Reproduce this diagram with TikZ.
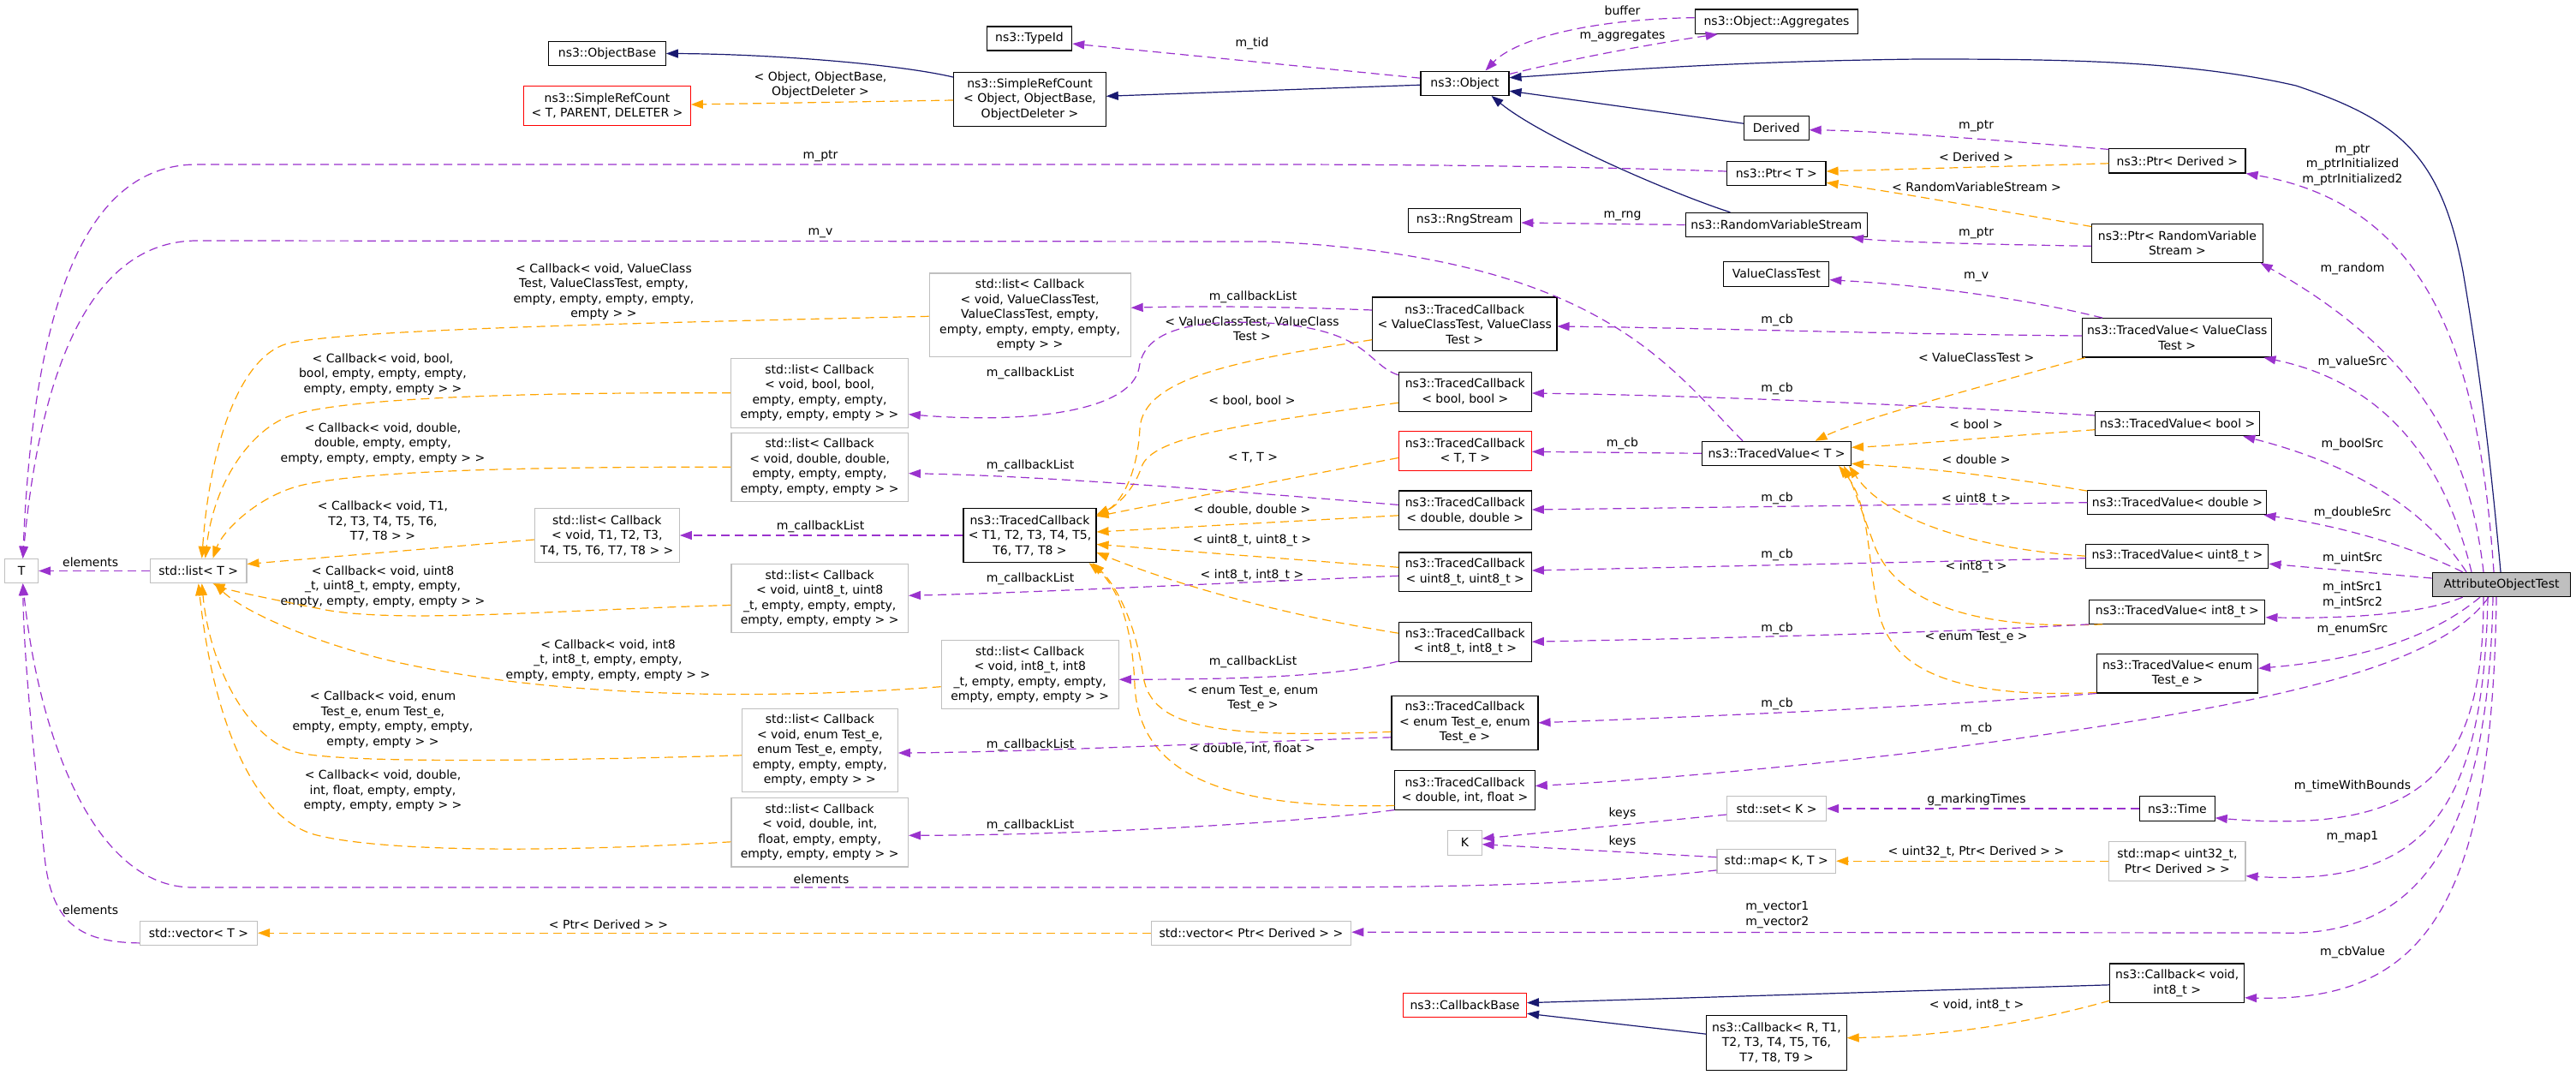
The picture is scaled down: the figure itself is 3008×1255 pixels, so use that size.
\documentclass[tikz,border=0pt]{standalone}
\usepackage{fontspec}
\setmainfont{DejaVu Sans}
\usetikzlibrary{arrows.meta,calc}
\definecolor{purp}{HTML}{9A32CD}
\definecolor{orng}{HTML}{FFA500}
\definecolor{navyb}{HTML}{191970}
\definecolor{boxgray}{HTML}{BFBFBF}
\newcommand{\dfont}{\fontsize{14}{17.5}\selectfont}
\begin{document}
\begin{tikzpicture}[x=1pt,y=-1pt,
  box/.style={draw=black, line width=1.1pt, fill=white, inner sep=0pt, align=center, font=\dfont},
  gbox/.style={box, draw=boxgray},
  rbox/.style={box, draw=red},
  lbl/.style={inner sep=0pt, align=center, font=\dfont},
  uedge/.style={draw=purp, line width=1.2pt, dash pattern=on 10pt off 6pt, -{Triangle[length=14pt,width=10pt]}},
  tedge/.style={draw=orng, line width=1.2pt, dash pattern=on 10pt off 6pt, -{Triangle[length=14pt,width=10pt]}},
  iedge/.style={draw=navyb, line width=1.2pt, -{Triangle[length=14pt,width=10pt]}}]
\useasboundingbox (0,0) rectangle (3008,1255);
\fill[white] (0,0) rectangle (3008,1255);

% ---------- nodes ----------
\node[box, minimum width=136.5pt, minimum height=28.4pt] (objbase) at (709,62.5) {ns3::ObjectBase};
\node[rbox, minimum width=194.7pt, minimum height=46pt] (srcT) at (709,123.7) {ns3::SimpleRefCount\\< T, PARENT, DELETER >};
\node[box, minimum width=177.5pt, minimum height=62.7pt] (srcObj) at (1202.5,115.7) {ns3::SimpleRefCount\\< Object, ObjectBase,\\ObjectDeleter >};
\node[box, minimum width=99.4pt, minimum height=28pt] (typeid) at (1202,45) {ns3::TypeId};
\node[box, minimum width=103pt, minimum height=28.3pt] (object) at (1710.5,97.2) {ns3::Object};
\node[box, minimum width=190.5pt, minimum height=28.3pt] (aggr) at (2074.5,25.2) {ns3::Object::Aggregates};
\node[box, minimum width=75.6pt, minimum height=28.3pt] (derived) at (2074.3,149.2) {Derived};
\node[box, minimum width=115.4pt, minimum height=28pt] (ptrT) at (2074.3,202.7) {ns3::Ptr< T >};
\node[box, minimum width=131pt, minimum height=28.3pt] (rng) at (1710.3,257.2) {ns3::RngStream};
\node[box, minimum width=212.3pt, minimum height=28.3pt] (rvs) at (2074.3,262.5) {ns3::RandomVariableStream};
\node[box, minimum width=123pt, minimum height=28.7pt] (vct) at (2074.3,319.7) {ValueClassTest};
\node[box, minimum width=159.2pt, minimum height=28.3pt] (ptrDerived) at (2542.4,187.8) {ns3::Ptr< Derived >};
\node[box, minimum width=199.3pt, minimum height=45.3pt] (ptrRVS) at (2542.4,283.7) {ns3::Ptr< RandomVariable\\Stream >};
\node[box, minimum width=221.3pt, minimum height=45.3pt] (tvVCT) at (2542.2,394.3) {ns3::TracedValue< ValueClass\\Test >};
\node[box, minimum width=192pt, minimum height=28pt] (tvBool) at (2542.7,494.7) {ns3::TracedValue< bool >};
\node[box, minimum width=209pt, minimum height=28pt] (tvDouble) at (2542.4,586.7) {ns3::TracedValue< double >};
\node[box, minimum width=213pt, minimum height=28.3pt] (tvU8) at (2542.4,649.2) {ns3::TracedValue< uint8\_t >};
\node[box, minimum width=205pt, minimum height=28pt] (tvI8) at (2542.4,714.3) {ns3::TracedValue< int8\_t >};
\node[box, minimum width=188pt, minimum height=45.3pt] (tvEnum) at (2542.6,786.3) {ns3::TracedValue< enum\\Test\_e >};
\node[box, fill=boxgray, minimum width=161.6pt, minimum height=28.3pt] (aot) at (2921,682.5) {AttributeObjectTest};
\node[box, minimum width=215.3pt, minimum height=62.7pt] (tcVCT) at (1710.3,378.3) {ns3::TracedCallback\\< ValueClassTest, ValueClass\\Test >};
\node[box, minimum width=155pt, minimum height=45.7pt] (tcBool) at (1710.8,457.2) {ns3::TracedCallback\\< bool, bool >};
\node[rbox, minimum width=155pt, minimum height=45.7pt] (tcTT) at (1710.8,526.5) {ns3::TracedCallback\\< T, T >};
\node[box, minimum width=174pt, minimum height=28pt] (tvT) at (2074.5,529.3) {ns3::TracedValue< T >};
\node[box, minimum width=155pt, minimum height=45.7pt] (tcDD) at (1710.8,595.8) {ns3::TracedCallback\\< double, double >};
\node[box, minimum width=155pt, minimum height=45.7pt] (tcU8) at (1710.8,667.8) {ns3::TracedCallback\\< uint8\_t, uint8\_t >};
\node[box, minimum width=155pt, minimum height=45.7pt] (tcI8) at (1710.8,749.2) {ns3::TracedCallback\\< int8\_t, int8\_t >};
\node[box, minimum width=171pt, minimum height=63pt] (tcEnum) at (1710.5,843.8) {ns3::TracedCallback\\< enum Test\_e, enum\\Test\_e >};
\node[box, minimum width=163.4pt, minimum height=45.7pt] (tcDIF) at (1710.5,922.5) {ns3::TracedCallback\\< double, int, float >};
\node[box, minimum width=155pt, minimum height=63.3pt] (tcT) at (1202.5,625) {ns3::TracedCallback\\< T1, T2, T3, T4, T5,\\T6, T7, T8 >};
\node[gbox, minimum width=235pt, minimum height=97.7pt] (lVCT) at (1202.6,367.8) {std::list< Callback\\< void, ValueClassTest,\\ValueClassTest, empty,\\empty, empty, empty, empty,\\empty > >};
\node[gbox, minimum width=206.5pt, minimum height=80.7pt] (lBool) at (957,458.7) {std::list< Callback\\< void, bool, bool,\\empty, empty, empty,\\empty, empty, empty > >};
\node[gbox, minimum width=206.5pt, minimum height=80.3pt] (lDouble) at (957.2,545.2) {std::list< Callback\\< void, double, double,\\empty, empty, empty,\\empty, empty, empty > >};
\node[gbox, minimum width=169pt, minimum height=63.3pt] (lT) at (708.8,625) {std::list< Callback\\< void, T1, T2, T3,\\T4, T5, T6, T7, T8 > >};
\node[gbox, minimum width=206.5pt, minimum height=80.3pt] (lU8) at (957.2,698.5) {std::list< Callback\\< void, uint8\_t, uint8\\\_t, empty, empty, empty,\\empty, empty, empty > >};
\node[gbox, minimum width=207pt, minimum height=80pt] (lI8) at (1202.7,787.7) {std::list< Callback\\< void, int8\_t, int8\\\_t, empty, empty, empty,\\empty, empty, empty > >};
\node[gbox, minimum width=181.8pt, minimum height=97pt] (lEnum) at (957.4,875.8) {std::list< Callback\\< void, enum Test\_e,\\enum Test\_e, empty,\\empty, empty, empty,\\empty, empty > >};
\node[gbox, minimum width=206.5pt, minimum height=80.3pt] (lDIF) at (957.2,971.8) {std::list< Callback\\< void, double, int,\\float, empty, empty,\\empty, empty, empty > >};
\node[gbox, minimum width=38.8pt, minimum height=28.3pt] (T) at (25.2,666.5) {T};
\node[gbox, minimum width=112.5pt, minimum height=28.3pt] (listT) at (231.7,666.5) {std::list< T >};
\node[gbox, minimum width=137pt, minimum height=28.3pt] (vecT) at (232,1089.2) {std::vector< T >};
\node[gbox, minimum width=233.5pt, minimum height=28.3pt] (vecPtr) at (1461,1089.2) {std::vector< Ptr< Derived > >};
\node[gbox, minimum width=116pt, minimum height=28.6pt] (setK) at (2074.5,944) {std::set< K >};
\node[gbox, minimum width=39.3pt, minimum height=28.7pt] (K) at (1710.5,983.7) {K};
\node[gbox, minimum width=138.6pt, minimum height=28.3pt] (mapKT) at (2074.3,1005.2) {std::map< K, T >};
\node[box, minimum width=87.6pt, minimum height=28.6pt] (time) at (2542.4,944) {ns3::Time};
\node[gbox, minimum width=159.2pt, minimum height=45.7pt] (mapU32) at (2542.4,1005.2) {std::map< uint32\_t,\\Ptr< Derived > >};
\node[rbox, minimum width=144pt, minimum height=28.3pt] (cbBase) at (1710.5,1173.2) {ns3::CallbackBase};
\node[box, minimum width=163.3pt, minimum height=63.7pt] (cbR) at (2074.5,1217.2) {ns3::Callback< R, T1,\\T2, T3, T4, T5, T6,\\T7, T8, T9 >};
\node[box, minimum width=156.7pt, minimum height=45.7pt] (cbVoid) at (2542.2,1147.8) {ns3::Callback< void,\\int8\_t >};

% ---------- edge labels ----------
\node[lbl] (la1) at (958,99) {< Object, ObjectBase,\\ObjectDeleter >};
\node[lbl] (la2) at (1462,51) {m\_tid};
\node[lbl] (la3) at (1894.5,12.3) {buffer};
\node[lbl] (la4) at (1894.5,42.3) {m\_aggregates};
\node[lbl] (la5) at (958,182) {m\_ptr};
\node[lbl] (la6) at (958,272) {m\_v};
\node[lbl] (la7) at (2307.6,147) {m\_ptr};
\node[lbl] (la8) at (2307.6,183) {< Derived >};
\node[lbl] (la9) at (2308,218.3) {< RandomVariableStream >};
\node[lbl] (la10) at (1894.5,252.3) {m\_rng};
\node[lbl] (la11) at (2307.6,272) {m\_ptr};
\node[lbl] (la12) at (2307.6,323.3) {m\_v};
\node[lbl] (la13) at (2075,374) {m\_cb};
\node[lbl] (la14) at (2307.6,417.7) {< ValueClassTest >};
\node[lbl] (la15) at (2747,192.3) {m\_ptr\\m\_ptrInitialized\\m\_ptrInitialized2};
\node[lbl] (la16) at (2747,314) {m\_random};
\node[lbl] (la17) at (2747,423.3) {m\_valueSrc};
\node[lbl] (la18) at (705,340.5) {< Callback< void, ValueClass\\Test, ValueClassTest, empty,\\empty, empty, empty, empty,\\empty > >};
\node[lbl] (la19) at (1463,347) {m\_callbackList};
\node[lbl] (la20) at (1462,384) {< ValueClassTest, ValueClass\\Test >};
\node[lbl] (la21) at (1203,436) {m\_callbackList};
\node[lbl] (la22) at (1462,468.3) {< bool, bool >};
\node[lbl] (la23) at (2075,454.3) {m\_cb};
\node[lbl] (la24) at (2307.6,495) {< bool >};
\node[lbl] (la25) at (2747,519) {m\_boolSrc};
\node[lbl] (la26) at (447,436.7) {< Callback< void, bool,\\bool, empty, empty, empty,\\empty, empty, empty > >};
\node[lbl] (la27) at (447,518) {< Callback< void, double,\\double, empty, empty,\\empty, empty, empty, empty > >};
\node[lbl] (la28) at (1894.4,518.3) {m\_cb};
\node[lbl] (la29) at (1463,534.3) {< T, T >};
\node[lbl] (la30) at (2307.6,536) {< double >};
\node[lbl] (la31) at (1203,544) {m\_callbackList};
\node[lbl] (la32) at (2075,582.3) {m\_cb};
\node[lbl] (la33) at (1462,595) {< double, double >};
\node[lbl] (la34) at (2307.6,583) {< uint8\_t >};
\node[lbl] (la35) at (2747,599) {m\_doubleSrc};
\node[lbl] (la36) at (447,608.7) {< Callback< void, T1,\\T2, T3, T4, T5, T6,\\T7, T8 > >};
\node[lbl] (la37) at (958,615) {m\_callbackList};
\node[lbl] (la38) at (1462,631) {< uint8\_t, uint8\_t >};
\node[lbl] (la39) at (2075,648.3) {m\_cb};
\node[lbl] (la40) at (2747,652) {m\_uintSrc};
\node[lbl] (la41) at (105.7,656) {elements};
\node[lbl] (la42) at (2307.6,662.3) {< int8\_t >};
\node[lbl] (la43) at (447,685) {< Callback< void, uint8\\\_t, uint8\_t, empty, empty,\\empty, empty, empty, empty > >};
\node[lbl] (la44) at (1203,676) {m\_callbackList};
\node[lbl] (la45) at (1462,672.3) {< int8\_t, int8\_t >};
\node[lbl] (la46) at (2747,694.8) {m\_intSrc1\\m\_intSrc2};
\node[lbl] (la47) at (2075,734) {m\_cb};
\node[lbl] (la48) at (2747,735) {m\_enumSrc};
\node[lbl] (la49) at (2307.6,744) {< enum Test\_e >};
\node[lbl] (la50) at (710,771) {< Callback< void, int8\\\_t, int8\_t, empty, empty,\\empty, empty, empty, empty > >};
\node[lbl] (la51) at (1463,772.7) {m\_callbackList};
\node[lbl] (la52) at (1463,815.7) {< enum Test\_e, enum\\Test\_e >};
\node[lbl] (la53) at (447,840) {< Callback< void, enum\\Test\_e, enum Test\_e,\\empty, empty, empty, empty,\\empty, empty > >};
\node[lbl] (la54) at (2075,822.3) {m\_cb};
\node[lbl] (la55) at (2307.6,851) {m\_cb};
\node[lbl] (la56) at (1203,870) {m\_callbackList};
\node[lbl] (la57) at (1462,874) {< double, int, float >};
\node[lbl] (la58) at (447,923.3) {< Callback< void, double,\\int, float, empty, empty,\\empty, empty, empty > >};
\node[lbl] (la59) at (2747,918.3) {m\_timeWithBounds};
\node[lbl] (la60) at (2308,934.3) {g\_markingTimes};
\node[lbl] (la61) at (1894.4,950) {keys};
\node[lbl] (la62) at (1203,964) {m\_callbackList};
\node[lbl] (la63) at (2747,976.7) {m\_map1};
\node[lbl] (la64) at (1894.4,983) {keys};
\node[lbl] (la65) at (2307.5,995) {< uint32\_t, Ptr< Derived > >};
\node[lbl] (la66) at (959,1026) {elements};
\node[lbl] (la67) at (105.7,1062.3) {elements};
\node[lbl] (la68) at (2075.3,1067.8) {m\_vector1\\m\_vector2};
\node[lbl] (la69) at (710.5,1079) {< Ptr< Derived > >};
\node[lbl] (la70) at (2747,1112.3) {m\_cbValue};
\node[lbl] (la71) at (2308,1174) {< void, int8\_t >};

% ---------- inheritance ----------
\draw[iedge] ($(srcObj.north west)+(0,6.3)$) .. controls (1050,75) and (900,63) .. (objbase.east);
\draw[iedge] ($(object.west)+(0,2)$) -- ($(srcObj.east)+(0,-3.4)$);
\draw[iedge] ($(derived.west)+(0,-5)$) -- ($(object.east)+(0,9)$);
\draw[iedge] ($(rvs.north)+(-54,0)$) .. controls (1950,225) and (1800,160) .. ($(object.south)+(31,0)$);
\draw[iedge] ($(aot.north)+(-1,0)$) .. controls (2905,500) and (2890,400) .. (2876,317) .. controls (2850,180) and (2800,140) .. (2681,100) .. controls (2550,70) and (2400,69) .. (2240,69) .. controls (2000,72) and (1850,85) .. ($(object.east)+(0,-6.5)$);
\draw[iedge] ($(cbVoid.west)+(0,2)$) -- ($(cbBase.east)+(0,-2.5)$);
\draw[iedge] ($(cbR.west)+(0,-10)$) -- ($(cbBase.east)+(0,10)$);

% ---------- template instances ----------
\draw[tedge] ($(srcObj.west)+(0,1.3)$) -- ($(srcT.east)+(0,-1.7)$);
\draw[tedge] ($(ptrDerived.west)+(0,3)$) -- ($(ptrT.east)+(0,-2.7)$);
\draw[tedge] ($(ptrRVS.north west)+(0,4)$) .. controls (2300,240) and (2200,222) .. ($(ptrT.east)+(0,10.6)$);
\draw[tedge] ($(tvVCT.south west)+(4,0)$) .. controls (2300,455) and (2170,490) .. ($(tvT.north)+(45,0)$);
\draw[tedge] ($(tvBool.west)+(0,7)$) .. controls (2300,512) and (2220,520) .. ($(tvT.east)+(0,-7)$);
\draw[tedge] ($(tvDouble.north west)+(0,1)$) .. controls (2300,550) and (2220,545) .. ($(tvT.east)+(0,12)$);
\draw[tedge] (tvU8.west) .. controls (2300,640) and (2200,605) .. ($(tvT.south east)+(-3,0)$);
\draw[tedge] ($(tvI8.south west)+(16,0)$) .. controls (2320,735) and (2220,710) .. (2190,640) .. controls (2175,600) and (2165,570) .. ($(tvT.south east)+(-9,0)$);
\draw[tedge] ($(tvEnum.south west)+(0,-1)$) .. controls (2300,815) and (2215,790) .. (2195,720) .. controls (2180,660) and (2185,590) .. ($(tvT.south east)+(-15,0)$);
\draw[tedge] ($(tcVCT.west)+(0,18.4)$) .. controls (1450,420) and (1335,440) .. (1331,500) .. controls (1328,560) and (1305,590) .. ($(tcT.north east)+(0,8)$);
\draw[tedge] ($(tcBool.west)+(0,13)$) .. controls (1450,495) and (1345,510) .. (1333,545) .. controls (1325,570) and (1305,590) .. ($(tcT.north east)+(0,9)$);
\draw[tedge] ($(tcTT.west)+(0,8)$) .. controls (1420,575) and (1320,595) .. ($(tcT.north east)+(0,10)$);
\draw[tedge] ($(tcDD.west)+(0,6)$) -- ($(tcT.east)+(0,-4)$);
\draw[tedge] ($(tcU8.west)+(0,-5.5)$) -- ($(tcT.east)+(0,10.5)$);
\draw[tedge] ($(tcI8.west)+(0,-10)$) .. controls (1450,710) and (1330,665) .. ($(tcT.east)+(0,20)$);
\draw[tedge] ($(tcEnum.west)+(0,10.5)$) .. controls (1420,862) and (1345,850) .. (1335,790) .. controls (1325,720) and (1300,680) .. ($(tcT.south east)+(-5,0)$);
\draw[tedge] ($(tcDIF.west)+(0,18)$) .. controls (1420,945) and (1330,900) .. (1325,800) .. controls (1322,720) and (1300,680) .. ($(tcT.south east)+(-9,0)$);
\draw[tedge] ($(lVCT.west)+(0,1.5)$) .. controls (700,378) and (420,385) .. (340,400) .. controls (280,412) and (245,520) .. ($(listT.north)+(4,0)$);
\draw[tedge] (lBool.west) .. controls (600,458) and (400,465) .. (340,485) .. controls (295,500) and (250,560) .. ($(listT.north)+(8,0)$);
\draw[tedge] (lDouble.west) .. controls (600,545) and (420,550) .. (350,567) .. controls (300,580) and (260,620) .. ($(listT.north east)+(-40,0)$);
\draw[tedge] ($(lT.west)+(0,5)$) -- ($(listT.east)+(0,-8)$);
\draw[tedge] ($(lU8.west)+(0,8)$) .. controls (650,712) and (470,728) .. (380,712) .. controls (320,700) and (270,690) .. ($(listT.south east)+(-40,0)$);
\draw[tedge] ($(lI8.west)+(0,14)$) .. controls (850,820) and (620,810) .. (450,770) .. controls (350,745) and (280,710) .. ($(listT.south east)+(-38,0)$);
\draw[tedge] ($(lEnum.west)+(0,6)$) .. controls (650,888) and (400,892) .. (345,878) .. controls (290,862) and (245,780) .. ($(listT.south)+(4,0)$);
\draw[tedge] ($(lDIF.west)+(0,11)$) .. controls (650,995) and (450,995) .. (370,975) .. controls (300,958) and (250,850) .. (listT.south);
\draw[tedge] (vecPtr.west) -- (vecT.east);
\draw[tedge] (mapU32.west) -- (mapKT.east);
\draw[tedge] ($(cbVoid.south west)+(0,-3)$) .. controls (2350,1200) and (2250,1210) .. ($(cbR.east)+(0,-5.5)$);

% ---------- usage ----------
\draw[uedge] ($(object.west)+(0,-6)$) -- ($(typeid.east)+(0,6)$);
\draw[uedge] ($(object.north east)+(0,4)$) .. controls (1850,65) and (1950,48) .. ($(aggr.south west)+(27,0)$);
\draw[uedge] ($(aggr.west)+(0,-4.5)$) .. controls (1860,22) and (1770,45) .. ($(object.north)+(24,0)$);
\draw[uedge] ($(ptrT.west)+(0,-2.7)$) .. controls (1800,193) and (1600,192) .. (1480,192) -- (230,192) .. controls (110,192) and (40,330) .. ($(T.north)+(1.5,0)$);
\draw[uedge] ($(tvT.north)+(-39.5,0)$) .. controls (1950,430) and (1870,300) .. (1480,282) -- (230,281) .. controls (120,281) and (50,400) .. ($(T.north)+(1.5,0)$);
\draw[uedge] (rvs.west) -- ($(rng.east)+(0,2.8)$);
\draw[uedge] ($(ptrDerived.north west)+(0,1.3)$) .. controls (2350,165) and (2200,153) .. ($(derived.east)+(0,2.5)$);
\draw[uedge] ($(ptrRVS.west)+(0,3.6)$) .. controls (2300,285) and (2200,282) .. ($(rvs.south east)+(-19,0)$);
\draw[uedge] ($(tvVCT.north west)+(24,0)$) .. controls (2350,345) and (2230,332) .. ($(vct.east)+(0,7)$);
\draw[uedge] ($(tvVCT.west)+(0,-2.3)$) .. controls (2200,390) and (2000,383) .. ($(tcVCT.east)+(0,2.7)$);
\draw[uedge] ($(tcVCT.west)+(0,-16.3)$) .. controls (1500,358) and (1400,357) .. ($(lVCT.east)+(0,-8.5)$);
\draw[uedge] ($(tcBool.north west)+(0,4)$) .. controls (1595,425) and (1600,385) .. (1480,377) .. controls (1380,372) and (1335,390) .. (1330,430) .. controls (1320,480) and (1200,495) .. ($(lBool.east)+(0,25)$);
\draw[uedge] ($(tcDD.north west)+(0,17)$) .. controls (1400,570) and (1200,555) .. ($(lDouble.east)+(0,7.5)$);
\draw[uedge] (tcT.west) -- (lT.east);
\draw[uedge] ($(tcU8.west)+(0,4.5)$) .. controls (1400,682) and (1200,692) .. ($(lU8.east)+(0,-3.2)$);
\draw[uedge] ($(tcI8.south west)+(0,-0.6)$) .. controls (1560,790) and (1450,793) .. ($(lI8.east)+(0,5.6)$);
\draw[uedge] ($(tcEnum.west)+(0,17)$) .. controls (1400,868) and (1200,878) .. ($(lEnum.east)+(0,3.2)$);
\draw[uedge] ($(tcDIF.south west)+(0,-0.3)$) .. controls (1500,962) and (1250,975) .. ($(lDIF.east)+(0,3.5)$);
\draw[uedge] ($(tvBool.west)+(0,-9.7)$) .. controls (2240,473) and (2000,462) .. ($(tcBool.east)+(0,1.8)$);
\draw[uedge] (tvT.west) -- ($(tcTT.east)+(0,0.8)$);
\draw[uedge] (tvDouble.west) -- ($(tcDD.east)+(0,-0.8)$);
\draw[uedge] ($(tvU8.west)+(0,2.5)$) -- ($(tcU8.east)+(0,-1.8)$);
\draw[uedge] (tvI8.south west) .. controls (2240,740) and (2000,745) .. (tcI8.east);
\draw[uedge] (tvEnum.south west) .. controls (2240,826) and (2000,836) .. (tcEnum.east);
\draw[uedge] ($(setK.west)+(0,7)$) -- ($(K.east)+(0,-4.7)$);
\draw[uedge] ($(mapKT.west)+(0,-4.5)$) -- ($(K.east)+(0,2)$);
\draw[uedge] (time.west) -- (setK.east);
\draw[uedge] ($(mapKT.south west)+(0,-4)$) .. controls (1850,1033) and (1700,1036) .. (1480,1036) -- (225,1036) .. controls (110,1036) and (45,860) .. ($(T.south)+(1.5,0)$);
\draw[uedge] ($(vecT.south west)+(0,-3)$) .. controls (90,1100) and (60,1075) .. (52,1000) .. controls (42,900) and (28,780) .. ($(T.south)+(1.5,0)$);
\draw[uedge] (listT.west) -- (T.east);
% from AttributeObjectTest
\draw[uedge] ($(aot.north)+(-9,0)$) .. controls (2895,420) and (2840,240) .. (ptrDerived.south east);
\draw[uedge] ($(aot.north)+(-21,0)$) .. controls (2885,540) and (2840,420) .. ($(ptrRVS.south east)+(-3,0)$);
\draw[uedge] ($(aot.north)+(-35,0)$) .. controls (2860,560) and (2800,450) .. ($(tvVCT.south east)+(-10,0)$);
\draw[uedge] ($(aot.north)+(-41,0)$) .. controls (2830,590) and (2740,540) .. ($(tvBool.south east)+(-20,0)$);
\draw[uedge] ($(aot.north west)+(36,0)$) .. controls (2820,640) and (2740,615) .. ($(tvDouble.south east)+(-4,0)$);
\draw[uedge] ($(aot.west)+(0,-7.5)$) -- ($(tvU8.east)+(0,9)$);
\draw[uedge] ($(aot.south west)+(36,0)$) .. controls (2820,720) and (2720,722) .. ($(tvI8.east)+(0,6.5)$);
\draw[uedge] ($(aot.south)+(-25,0)$) .. controls (2850,735) and (2780,768) .. ($(tvEnum.east)+(0,-6)$);
\draw[uedge] ($(aot.south)+(-15,0)$) .. controls (2840,790) and (2600,830) .. (2240,878) .. controls (2050,900) and (1900,912) .. ($(tcDIF.east)+(0,-5)$);
\draw[uedge] ($(aot.south)+(-21,0)$) .. controls (2900,900) and (2830,975) .. ($(time.south east)+(0,-4)$);
\draw[uedge] ($(aot.south)+(-16,0)$) .. controls (2900,950) and (2830,1035) .. ($(mapU32.east)+(0,17.5)$);
\draw[uedge] ($(aot.south)+(-10,0)$) .. controls (2905,990) and (2820,1095) .. (2660,1089) -- ($(vecPtr.east)+(0,-1)$);
\draw[uedge] ($(aot.south)+(-6,0)$) .. controls (2910,1060) and (2830,1170) .. ($(cbVoid.east)+(0,17)$);
\end{tikzpicture}
\end{document}
